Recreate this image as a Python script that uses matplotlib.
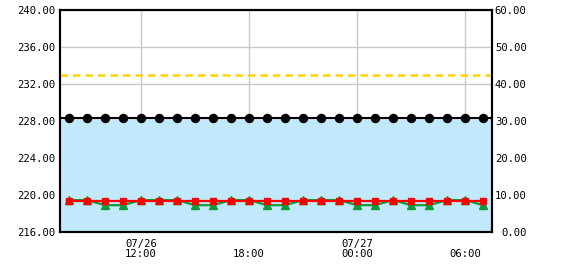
import pandas as pd
import matplotlib
matplotlib.use('Agg')
import matplotlib.pyplot as plt

# ── Dados ─────────────────────────────────────────────────────────────────────
horas = pd.date_range('2024-07-26 08:00', '2024-07-27 07:00', freq='h')
x_ini = pd.Timestamp('2024-07-26 07:30')
x_fim = pd.Timestamp('2024-07-27 07:30')

preto = [228.35] * 24
vermelho = [219.4] * 24
verde = [219.45, 219.45, 218.9, 218.9, 219.45, 219.45, 219.45, 218.9,
         218.9, 219.45, 219.45, 218.9, 218.9, 219.45, 219.45, 219.45,
         218.9, 218.9, 219.45, 218.9, 218.9, 219.45, 219.45, 218.9]
limite = 233.0

ticks_x = pd.to_datetime(['2024-07-26 12:00', '2024-07-26 18:00',
                          '2024-07-27 00:00', '2024-07-27 06:00'])
rotulos_x = ['07/26\n12:00', '\n18:00', '07/27\n00:00', '\n06:00']
ticks_esq = [216, 220, 224, 228, 232, 236, 240]
ticks_dir = [0, 10, 20, 30, 40, 50, 60]

# ── Figura ────────────────────────────────────────────────────────────────────
plt.rcParams['font.family'] = 'DejaVu Sans Mono'
fs = 7.6
fig = plt.figure(figsize=(5.7, 2.7), dpi=100)
ax = fig.add_axes([60 / 570, 38 / 270, 432 / 570, 222 / 270])

ax.fill_between([x_ini, x_fim], 216, 228.25, color='#C2E8FC', lw=0, zorder=1)
ax.axhline(limite, color='#FFD200', lw=1.8, ls=(0, (3, 2)), zorder=3)
ax.axhline(preto[0], color='black', lw=1.5, zorder=3)
ax.plot(horas, preto, 'o', color='black', ms=5.8, zorder=4)
ax.plot(horas, verde, '-^', color='#129A3A', lw=1.6, ms=6, zorder=4)
ax.plot(horas, vermelho, '-s', color='#FF0000', lw=1.6, ms=5, zorder=5)

ax.set_xlim(x_ini, x_fim)
ax.set_ylim(216, 240)
ax.set_xticks(ticks_x)
ax.set_xticklabels(rotulos_x, fontsize=fs, linespacing=1.05)
ax.set_yticks(ticks_esq)
ax.set_yticklabels([f'{v:.2f}' for v in ticks_esq], fontsize=fs)
ax.tick_params(length=0, pad=3)
ax.tick_params(axis='x', pad=5)
ax.grid(True, color='#C8C8C8', lw=1)
ax.set_axisbelow(True)
for s in ax.spines.values():
    s.set_linewidth(1.5)

ax2 = ax.twinx()
ax2.set_ylim(0, 60)
ax2.set_yticks(ticks_dir)
ax2.set_yticklabels([f'{v:.2f}' for v in ticks_dir], fontsize=fs, ha='right')
ax2.tick_params(length=0, pad=25)
for s in ax2.spines.values():
    s.set_linewidth(1.5)

fig.savefig('out.png', dpi=100)
